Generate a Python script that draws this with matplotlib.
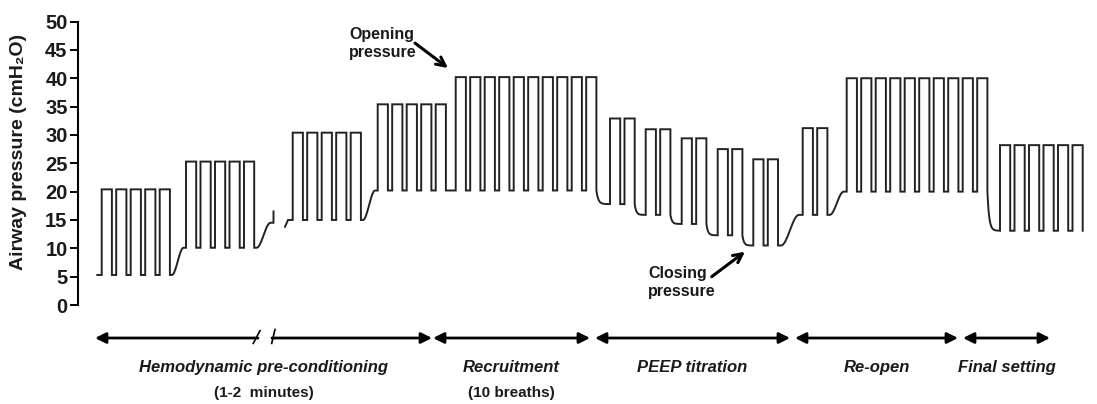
import numpy as np
import matplotlib
matplotlib.use('Agg')
import matplotlib.pyplot as plt

# Breath groups along the (schematic) time axis: first inspiration, count, peak and PEEP (cmH2O)
group_start = [101.7, 186.0, 292.7, 377.7, 455.7, 610.0, 645.7, 681.7, 717.7, 753.3, 802.7, 846.7, 1000.0]
group_breaths = [5, 5, 5, 5, 10, 2, 2, 2, 2, 2, 2, 10, 6]
group_peak = [20.4, 25.3, 30.4, 35.4, 40.2, 32.9, 31.0, 29.4, 27.5, 25.7, 31.2, 40.0, 28.2]
group_peep = [5.3, 10.1, 15.0, 20.2, 20.2, 17.8, 15.9, 14.3, 12.3, 10.5, 15.9, 20.0, 13.1]
trace_start = 97.3
break_after = 1              # time axis is cut between group 2 and group 3
break_span = (273.5, 285.0)

# Phases shown under the trace
phase_names = ['Hemodynamic pre-conditioning', 'Recruitment', 'PEEP titration', 'Re-open', 'Final setting']
phase_notes = ['(1-2  minutes)', '(10 breaths)', '', '', '']
phase_start = [95, 433, 595, 795, 963]
phase_end = [432, 590, 790, 958, 1050]

PERIOD, TOP = 14.5, 10.2
FONT = ['Liberation Sans', 'DejaVu Sans']
INK = '#1a1a1a'


def transition(x0, x1, p0, p1):
    gap = x1 - x0
    if p1 > p0:
        a, b = x0 + 0.12 * gap, x1 - 0.15 * gap
        u = np.linspace(0, 1, 20)
        x = [a] + list(a + (b - a) * u) + [x1]
        y = [p0] + list(p0 + (p1 - p0) * (1 - np.cos(np.pi * u)) / 2) + [p1]
        return x, y
    if p1 < p0:
        u = np.linspace(0, 1, 30)
        b = x1 - 0.3 * gap
        return list(x0 + (b - x0) * u), list(p1 + (p0 - p1) * np.exp(-5 * u))
    return [], []


def breath_trace():
    xs, ys = [trace_start], [group_peep[0]]
    n = len(group_start)
    for i in range(n):
        s, pk, pe = group_start[i], group_peak[i], group_peep[i]
        for b in range(group_breaths[i]):
            t = s + b * PERIOD
            xs += [t, t, t + TOP, t + TOP]
            ys += [pe, pk, pk, pe]
        if i == n - 1:
            break
        end, pe2 = xs[-1], group_peep[i + 1]
        if i == break_after:
            bx0, bx1 = break_span
            p_mid = pe + 0.9 * (pe2 - pe)
            tx, ty = transition(end, bx0, pe, p_mid)
            xs += tx + [bx0, np.nan, bx1, bx1 + 3]
            ys += ty + [p_mid + 2.0, np.nan, pe2 - 1.2, pe2]
        else:
            tx, ty = transition(end, group_start[i + 1], pe, pe2)
            xs += tx
            ys += ty
    return np.array(xs), np.array(ys)


fig = plt.figure(figsize=(10.97, 4.04), dpi=100)
ax = fig.add_axes([0, 0, 1, 1])
ax.set_xlim(0, 1097)
ax.set_ylim(-17.46, 53.8)

x, y = breath_trace()
ax.plot(x, y, color='#222222', lw=1.4, solid_joinstyle='miter')

# axis
for side in ['top', 'right', 'bottom']:
    ax.spines[side].set_visible(False)
ax.spines['left'].set_position(('data', 78))
ax.spines['left'].set_bounds(0, 50)
ax.spines['left'].set_linewidth(1.5)
ax.set_xticks([])
ax.set_yticks(range(0, 51, 5))
ax.tick_params(axis='y', direction='out', length=5.5, width=1.4, pad=2)
for lbl in ax.get_yticklabels():
    lbl.set_fontfamily(FONT); lbl.set_fontweight('bold'); lbl.set_fontsize(14.5); lbl.set_color(INK)
ax.patch.set_visible(False)

ax.text(19, 27.0, 'Airway pressure (cmH\u2082O)', rotation=90, ha='center', va='center',
        fontsize=14, fontweight='bold', family=FONT, color=INK)

# annotations
ax.annotate('', xy=(448, 41.8), xytext=(415, 46.2),
            arrowprops=dict(arrowstyle='->', lw=2.2, color='k', mutation_scale=16, shrinkA=0, shrinkB=0))
ax.text(349, 46.1, 'Opening\npressure', ha='left', va='center', fontsize=11.5, fontweight='bold',
        family=FONT, color=INK, linespacing=1.25)
ax.annotate('', xy=(745, 9.4), xytext=(711.7, 5.0),
            arrowprops=dict(arrowstyle='->', lw=2.2, color='k', mutation_scale=16, shrinkA=0, shrinkB=0))
ax.text(648.3, 4.0, 'Closing\npressure', ha='left', va='center', fontsize=11.5, fontweight='bold',
        family=FONT, color=INK, linespacing=1.25)

# phase arrows
ya = -5.82
for i, (a, b) in enumerate(zip(phase_start, phase_end)):
    if i == 0:
        bx0, bx1 = 258, 272
        ax.annotate('', xy=(a, ya), xytext=(bx0, ya),
                    arrowprops=dict(arrowstyle='-|>', lw=2, color='k', mutation_scale=16, shrinkA=0, shrinkB=0))
        ax.annotate('', xy=(b, ya), xytext=(bx1, ya),
                    arrowprops=dict(arrowstyle='-|>', lw=2, color='k', mutation_scale=16, shrinkA=0, shrinkB=0))
        ax.plot([bx0 - 4.7, bx0 + 2], [ya - 0.95, ya + 1.3], color='k', lw=1.2)
        ax.plot([bx1 - 0.3, bx1 + 3], [ya - 0.95, ya + 1.5], color='k', lw=1.2)
    else:
        ax.annotate('', xy=(b, ya), xytext=(a, ya),
                    arrowprops=dict(arrowstyle='<|-|>', lw=2, color='k', mutation_scale=16, shrinkA=0, shrinkB=0))
    mid = (a + b) / 2
    ax.text(mid, -11.1, phase_names[i], ha='center', va='center', fontsize=12, fontweight='bold',
            fontstyle='italic', family=FONT, color=INK)
    if phase_notes[i]:
        ax.text(mid, -15.5, phase_notes[i], ha='center', va='center', fontsize=11, fontweight='bold',
                family=FONT, color=INK)

fig.savefig('out.png', dpi=100)
